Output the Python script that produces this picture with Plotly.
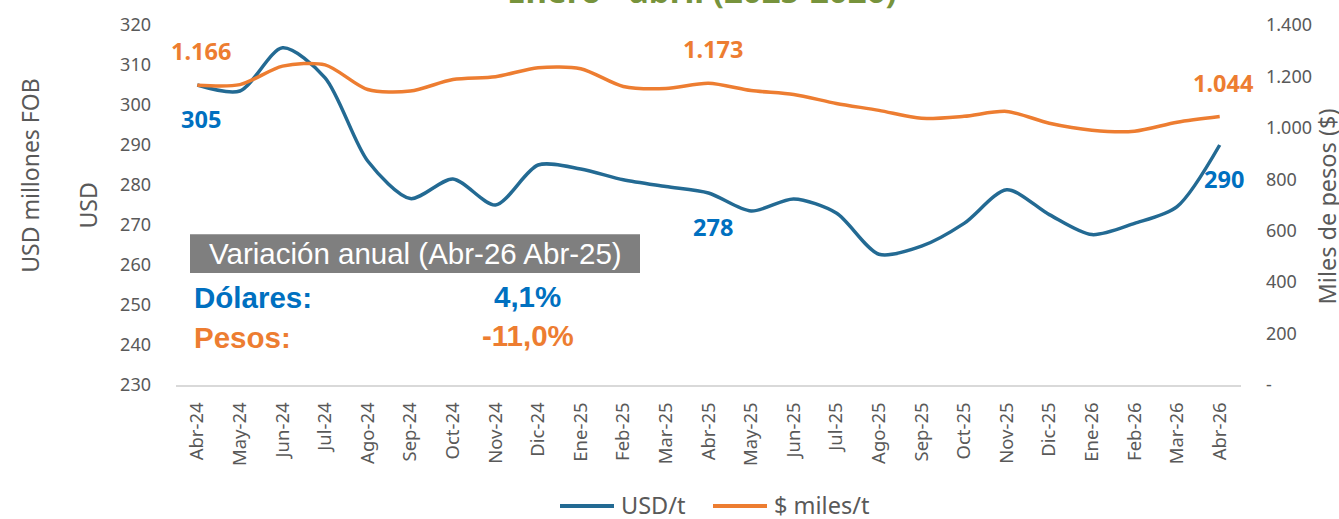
import plotly.graph_objects as go

months = ["Abr-24", "May-24", "Jun-24", "Jul-24", "Ago-24", "Sep-24", "Oct-24", "Nov-24",
          "Dic-24", "Ene-25", "Feb-25", "Mar-25", "Abr-25", "May-25", "Jun-25", "Jul-25",
          "Ago-25", "Sep-25", "Oct-25", "Nov-25", "Dic-25", "Ene-26", "Feb-26", "Mar-26", "Abr-26"]

usd_t = [305, 303.5, 314.3, 306.8, 286, 276.6, 281.5, 275, 285, 284, 281.3, 279.6, 278,
         273.5, 276.5, 273, 262.7, 264.7, 270.4, 278.8, 272.6, 267.6, 270.4, 274.6, 290]

pesos_miles_t = [1166, 1168, 1240, 1245, 1149, 1143, 1188, 1199, 1234, 1230, 1161, 1153, 1173,
                 1145, 1130, 1095, 1068, 1037, 1045, 1064, 1018, 991, 987, 1022, 1044]

left_ticks = [230, 240, 250, 260, 270, 280, 290, 300, 310, 320]
right_ticks = [0, 200, 400, 600, 800, 1000, 1200, 1400]
right_ticktext = ["-", "200", "400", "600", "800", "1.000", "1.200", "1.400"]

usd_labels = [(0, "305"), (12, "278"), (24, "290")]
peso_labels = [(0, "1.166"), (12, "1.173"), (24, "1.044")]

series_names = ["USD/t", "$ miles/t"]

BLUE_LINE = "#236A93"
ORANGE = "#ED7D31"
BLUE_LBL = "#0070C0"
GRAY = "#595959"
FONT = "Noto Sans"

L, R, T, B = 176, 1241, 22, 385
def px(xp):
    return (xp - L) / (R - L)
def py(yp):
    return (B - yp) / (B - T)

fig = go.Figure()
fig.add_trace(go.Scatter(x=months, y=usd_t, name=series_names[0], mode="lines",
                         line=dict(color=BLUE_LINE, width=3.5, shape="spline", smoothing=0.8),
                         yaxis="y", showlegend=False))
fig.add_trace(go.Scatter(x=months, y=pesos_miles_t, name=series_names[1], mode="lines",
                         line=dict(color=ORANGE, width=3.5, shape="spline", smoothing=0.8),
                         yaxis="y2", showlegend=False))

annotations = []
for i, t in usd_labels:
    annotations.append(dict(x=months[i], y=usd_t[i], xref="x", yref="y", text=f"<b>{t}</b>",
                            showarrow=False, xshift=4, yshift=-34, xanchor="center", yanchor="middle",
                            font=dict(family=FONT, size=23.5, color=BLUE_LBL)))
for i, t in peso_labels:
    annotations.append(dict(x=months[i], y=pesos_miles_t[i], xref="x", yref="y2", text=f"<b>{t}</b>",
                            showarrow=False, xshift=4, yshift=34, xanchor="center", yanchor="middle",
                            font=dict(family=FONT, size=23.5, color=ORANGE)))

def txt(xp, yp, text, size, color, family=FONT, xanchor="center", angle=0, yanchor="middle"):
    return dict(x=px(xp), y=py(yp), xref="paper", yref="paper", text=text, showarrow=False,
                xanchor=xanchor, yanchor=yanchor, textangle=angle,
                font=dict(family=family, size=size, color=color))

# Title (partially cut at top)
annotations.append(txt(702, 12, "<b>Enero - abril (2025-2026)</b>", 33, "#77933C", yanchor="bottom"))

# axis titles
annotations.append(txt(30, 174, "USD millones FOB", 23, GRAY, angle=-90))
annotations.append(txt(88, 204, "USD", 23, GRAY, angle=-90))
annotations.append(txt(1327, 205, "Miles de pesos ($)", 23.5, GRAY, angle=-90))

# Variation box
annotations.append(txt(415, 252.5, "Variación anual (Abr-26 Abr-25)", 29.5, "white", family="Liberation Sans"))
annotations.append(txt(192, 297, "<b>Dólares:</b>", 29.5, BLUE_LBL, family="Liberation Sans", xanchor="left"))
annotations.append(txt(527, 296, "<b>4,1%</b>", 29.5, BLUE_LBL, family="Liberation Sans"))
annotations.append(txt(192, 337, "<b>Pesos:</b>", 29.5, ORANGE, family="Liberation Sans", xanchor="left"))
annotations.append(txt(528, 335, "<b>-11,0%</b>", 29.5, ORANGE, family="Liberation Sans"))

shapes = [dict(type="rect", xref="paper", yref="paper", x0=px(190), x1=px(640),
               y0=py(272), y1=py(233), fillcolor="#7F7F7F", line=dict(width=0), layer="below")]

# legend (drawn manually to match sample length / spacing)
legend_items = [(560, 614, 619, series_names[0], BLUE_LINE), (713, 767, 772, series_names[1], ORANGE)]
for x0, x1, xt, name, col in legend_items:
    shapes.append(dict(type="line", xref="paper", yref="paper", x0=px(x0), x1=px(x1),
                       y0=py(507), y1=py(507), line=dict(color=col, width=4)))
    annotations.append(txt(xt, 506, name, 23.5, GRAY, xanchor="left"))

fig.update_layout(
    width=1339, height=519,
    margin=dict(l=L, r=1339 - R, t=T, b=519 - B),
    paper_bgcolor="white", plot_bgcolor="white",
    font=dict(family=FONT, color=GRAY),
    showlegend=False,
    xaxis=dict(range=[-0.5, 24.5], tickangle=-90, showgrid=False, zeroline=False,
               showline=True, linecolor="#D9D9D9", linewidth=2, ticks="",
               tickfont=dict(family=FONT, size=18.5, color=GRAY), ticklabelstandoff=8),
    yaxis=dict(range=[230, 320], tickvals=left_ticks, showgrid=False, zeroline=False,
               showline=False, ticks="", ticklabelstandoff=24,
               tickfont=dict(family=FONT, size=18, color=GRAY)),
    yaxis2=dict(range=[0, 1400], tickvals=right_ticks, ticktext=right_ticktext,
                overlaying="y", side="right", showgrid=False, zeroline=False,
                showline=False, ticks="", ticklabelstandoff=24,
                tickfont=dict(family=FONT, size=18, color=GRAY)),
    annotations=annotations,
    shapes=shapes,
)

fig.write_html("out.html", config={"displayModeBar": False},
               post_script="document.body.style.margin='0';document.body.style.padding='0';")
